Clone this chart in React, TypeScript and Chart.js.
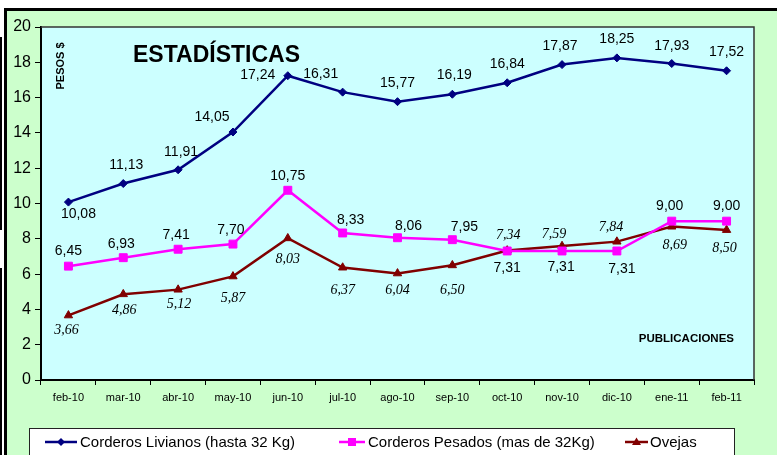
import React, { useEffect, useRef } from 'react';
import { Chart, registerables } from 'chart.js';

Chart.register(...registerables);

const categories = ['feb-10', 'mar-10', 'abr-10', 'may-10', 'jun-10', 'jul-10', 'ago-10', 'sep-10', 'oct-10', 'nov-10', 'dic-10', 'ene-11', 'feb-11'];
const livianos = [10.08, 11.13, 11.91, 14.05, 17.24, 16.31, 15.77, 16.19, 16.84, 17.87, 18.25, 17.93, 17.52];
const pesados = [6.45, 6.93, 7.41, 7.7, 10.75, 8.33, 8.06, 7.95, 7.31, 7.31, 7.31, 9.0, 9.0];
const ovejas = [3.66, 4.86, 5.12, 5.87, 8.03, 6.37, 6.04, 6.5, 7.34, 7.59, 7.84, 8.69, 8.5];
const seriesNames = ['Corderos Livianos (hasta 32 Kg)', 'Corderos Pesados (mas de 32Kg)', 'Ovejas'];
const yMin = 0;
const yMax = 20;
const yStep = 2;

// label offsets (dx, dy) relative to each point
const livOff = [[10, 11], [3, -20], [3, -19], [-21, -16], [-30, -2], [-22, -19], [0, -20], [2, -20], [0, -20], [-2, -20], [0, -20], [0, -19], [0, -20]];
const pesOff = [[0, -16], [-2, -15], [-2, -15], [-2, -15], [0, -15], [8, -14], [11, -13], [12, -14], [0, 16], [-1, 15], [5, 17], [-2, -16], [0, -16]];
const ovOff = [[-2, 14], [1, 15], [1, 13], [0, 21], [0, 20], [0, 21], [0, 16], [0, 24], [1, -16], [-8, -13], [-6, -16], [3, 17], [-2, 17]];

const SANS = "Arial, 'Liberation Sans', sans-serif";
const SERIF = "'Times New Roman', 'Liberation Serif', serif";
const NAVY = '#000080';
const MAGENTA = '#FF00FF';
const DARKRED = '#800000';

const fmt = (v: number) => v.toFixed(2).replace('.', ',');

function drawMarker(ctx: CanvasRenderingContext2D, style: string, x: number, y: number, color: string) {
  ctx.save();
  ctx.fillStyle = color;
  ctx.beginPath();
  if (style === 'diamond') {
    ctx.moveTo(x, y - 4);
    ctx.lineTo(x + 4, y);
    ctx.lineTo(x, y + 4);
    ctx.lineTo(x - 4, y);
    ctx.closePath();
  } else if (style === 'square') {
    ctx.rect(x - 4, y - 4, 8, 8);
  } else {
    ctx.moveTo(x, y - 4.5);
    ctx.lineTo(x + 4.5, y + 3);
    ctx.lineTo(x - 4.5, y + 3);
    ctx.closePath();
  }
  ctx.fill();
  ctx.restore();
}

const decorPlugin = {
  id: 'decor',
  beforeDraw(chart: any) {
    const ctx = chart.ctx as CanvasRenderingContext2D;
    const { left, top, right, bottom } = chart.chartArea;
    ctx.save();
    ctx.fillStyle = '#FFFFFF';
    ctx.fillRect(0, 0, chart.width, chart.height);
    // black frame
    ctx.fillStyle = '#000000';
    ctx.fillRect(4, 8, chart.width - 4, 3);
    ctx.fillRect(4, 8, 3, chart.height - 8);
    ctx.fillRect(0, 37, 2, 193);
    ctx.fillRect(0, 268, 2, chart.height - 268);
    // green background
    ctx.fillStyle = '#CCFFCC';
    ctx.fillRect(7, 11, chart.width - 7, chart.height - 11);
    // plot area
    ctx.fillStyle = '#CCFFFF';
    ctx.fillRect(left, top, right - left, bottom - top);
    ctx.restore();
  },
  afterDraw(chart: any) {
    const ctx = chart.ctx as CanvasRenderingContext2D;
    const { left, top, right, bottom } = chart.chartArea;
    ctx.save();
    // plot border top/right
    ctx.strokeStyle = '#333333';
    ctx.lineWidth = 1.5;
    ctx.beginPath();
    ctx.moveTo(left, top);
    ctx.lineTo(right, top);
    ctx.lineTo(right, bottom);
    ctx.stroke();

    // title
    ctx.fillStyle = '#000000';
    ctx.font = `bold 23px ${SANS}`;
    ctx.textAlign = 'left';
    ctx.textBaseline = 'alphabetic';
    ctx.fillText('ESTADÍSTICAS', 133, 62);

    // PESOS $
    ctx.save();
    ctx.translate(64, 66);
    ctx.rotate(-Math.PI / 2);
    ctx.font = `bold 11px ${SANS}`;
    ctx.textAlign = 'center';
    ctx.fillText('PESOS $', 0, 0);
    ctx.restore();

    // PUBLICACIONES
    ctx.font = `bold 11.5px ${SANS}`;
    ctx.textAlign = 'right';
    ctx.fillText('PUBLICACIONES', 734, 342);

    // data labels
    const series = [
      { idx: 0, off: livOff, font: `14px ${SANS}` },
      { idx: 1, off: pesOff, font: `14px ${SANS}` },
      { idx: 2, off: ovOff, font: `italic 14px ${SERIF}` },
    ];
    ctx.textAlign = 'center';
    ctx.textBaseline = 'alphabetic';
    series.forEach((s) => {
      const meta = chart.getDatasetMeta(s.idx);
      const data = chart.data.datasets[s.idx].data as number[];
      ctx.font = s.font;
      meta.data.forEach((pt: any, i: number) => {
        const [dx, dy] = s.off[i];
        ctx.fillText(fmt(data[i]), pt.x + dx, pt.y + dy + 5);
      });
    });

    // legend
    ctx.fillStyle = '#FFFFFF';
    ctx.fillRect(29, 428, 705, 40);
    ctx.strokeStyle = '#222222';
    ctx.lineWidth = 1;
    ctx.strokeRect(29.5, 428.5, 705, 40);
    const items = [
      { x1: 45, x2: 77, tx: 80, color: NAVY, marker: 'diamond', name: seriesNames[0] },
      { x1: 339, x2: 365, tx: 368, color: MAGENTA, marker: 'square', name: seriesNames[1] },
      { x1: 625, x2: 648, tx: 650, color: DARKRED, marker: 'triangle', name: seriesNames[2] },
    ];
    ctx.font = `15px ${SANS}`;
    ctx.textAlign = 'left';
    ctx.textBaseline = 'alphabetic';
    items.forEach((it) => {
      ctx.strokeStyle = it.color;
      ctx.lineWidth = 2.5;
      ctx.beginPath();
      ctx.moveTo(it.x1, 442);
      ctx.lineTo(it.x2, 442);
      ctx.stroke();
      drawMarker(ctx, it.marker, (it.x1 + it.x2) / 2, 442, it.color);
      ctx.fillStyle = '#000000';
      ctx.fillText(it.name, it.tx, 447);
    });
    ctx.restore();
  },
};

export default function App() {
  const canvasRef = useRef<HTMLCanvasElement | null>(null);

  useEffect(() => {
    if (!canvasRef.current) return;
    const chart = new Chart(canvasRef.current, {
      type: 'line',
      data: {
        labels: categories,
        datasets: [
          {
            label: seriesNames[0],
            data: livianos,
            borderColor: NAVY,
            backgroundColor: NAVY,
            borderWidth: 2.5,
            pointStyle: 'rectRot',
            pointRadius: 4,
            pointBorderWidth: 1,
            tension: 0,
          },
          {
            label: seriesNames[1],
            data: pesados,
            borderColor: MAGENTA,
            backgroundColor: MAGENTA,
            borderWidth: 2.5,
            pointStyle: 'rect',
            pointRadius: 5.6,
            pointBorderWidth: 1,
            tension: 0,
          },
          {
            label: seriesNames[2],
            data: ovejas,
            borderColor: DARKRED,
            backgroundColor: DARKRED,
            borderWidth: 2.5,
            pointStyle: 'triangle',
            pointRadius: 4.8,
            pointBorderWidth: 1,
            tension: 0,
          },
        ],
      },
      options: {
        animation: false,
        responsive: false,
        devicePixelRatio: 1,
        layout: { padding: { top: 27, right: 23, left: 0, bottom: 0 } },
        plugins: {
          legend: { display: false },
          tooltip: { enabled: false },
          title: { display: false },
        },
        scales: {
          x: {
            type: 'category',
            offset: true,
            grid: {
              display: true,
              drawOnChartArea: false,
              drawTicks: true,
              tickLength: 5,
              color: '#000000',
              offset: true,
            },
            border: { display: true, color: '#000000', width: 2 },
            ticks: {
              color: '#000000',
              font: { family: SANS, size: 11 },
              padding: 6,
              maxRotation: 0,
              autoSkip: false,
            },
            afterFit: (s: any) => {
              s.height = 75;
            },
          },
          y: {
            min: yMin,
            max: yMax,
            grid: {
              drawOnChartArea: false,
              drawTicks: true,
              tickLength: 6,
              color: '#000000',
            },
            border: { display: true, color: '#000000', width: 2 },
            ticks: {
              stepSize: yStep,
              color: '#000000',
              font: { family: SANS, size: 16 },
              padding: 4,
            },
            afterFit: (s: any) => {
              s.width = 41;
            },
          },
        },
      },
      plugins: [decorPlugin],
    });
    return () => chart.destroy();
  }, []);

  return (
    <div style={{ position: 'absolute', left: 0, top: 0, width: 777, height: 455 }}>
      <canvas ref={canvasRef} width={777} height={455} style={{ display: 'block' }} />
    </div>
  );
}
